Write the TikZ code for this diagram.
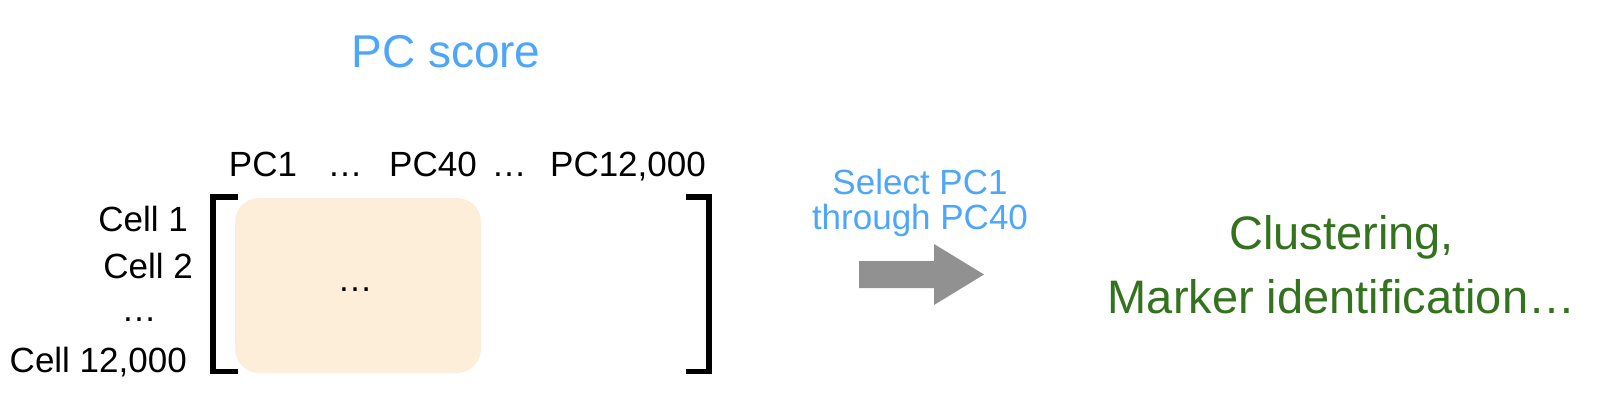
\documentclass[tikz,border=0pt]{standalone}
\usepackage{fontspec}
\setmainfont{Liberation Sans}
\definecolor{pcblue}{RGB}{77,166,250}
\definecolor{grn}{RGB}{52,115,30}
\definecolor{peach}{RGB}{253,238,218}
\definecolor{arrowgray}{RGB}{145,145,145}
\begin{document}
\begin{tikzpicture}[x=1pt,y=-1pt,
  lbl/.style={inner sep=0pt, font=\fontsize{35}{40}\selectfont},
  rowlbl/.style={lbl, anchor=base east},
  collbl/.style={lbl, anchor=base},
  brk/.style={line width=5.5pt, line cap=butt, line join=miter},
  title/.style={inner sep=0pt, anchor=base, text=pcblue, font=\fontsize{46}{52}\selectfont},
  note/.style={inner sep=0pt, anchor=base, text=pcblue, font=\fontsize{35}{40}\selectfont},
  result/.style={inner sep=0pt, anchor=base, text=grn, font=\fontsize{47}{54}\selectfont}]
\useasboundingbox (0,0) rectangle (1606,416);
% title
\node[title] (title) at (446,67) {PC score};
% highlighted block
\fill[peach, rounded corners=24pt] (235,198) rectangle (481,373);
\node[lbl, anchor=base] (mid) at (355,291) {…};
% brackets
\draw[brk] (238,196.8) -- (212.75,196.8) -- (212.75,371.5) -- (238,371.5);
\draw[brk] (686,196.8) -- (709,196.8) -- (709,371.5) -- (686,371.5);
% column labels
\node[collbl] (c1) at (263,176.5) {PC1};
\node[collbl] (cd1) at (345,176.5) {…};
\node[collbl] (c40) at (433,176.5) {PC40};
\node[collbl] (cd2) at (509,176.5) {…};
\node[collbl] (c12k) at (628,176.5) {PC12,000};
% row labels
\node[rowlbl] (r1) at (188,231) {Cell 1};
\node[rowlbl] (r2) at (193,278) {Cell 2};
\node[lbl, anchor=base] (rd) at (139,321) {…};
\node[rowlbl] (r12k) at (187,372) {Cell 12,000};
% step note
\node[note] (sel1) at (920,194) {Select PC1};
\node[note] (sel2) at (920,229) {through PC40};
% block arrow
\fill[arrowgray] (859,261) -- (934,261) -- (934,244) -- (984,274.5) -- (934,305) -- (934,288) -- (859,288) -- cycle;
% result
\node[result] (res1) at (1341.5,249) {Clustering,};
\node[result] (res2) at (1341.5,313) {Marker identification…};
\end{tikzpicture}
\end{document}
